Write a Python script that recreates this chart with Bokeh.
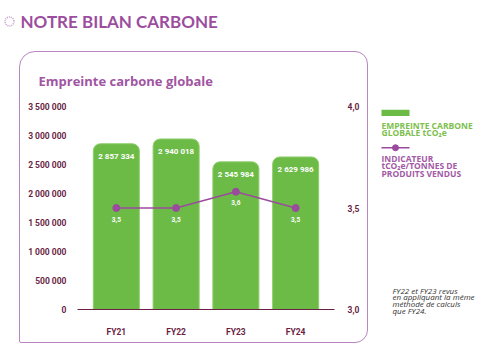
from bokeh.plotting import figure
from bokeh.models import FactorRange, Range1d, LinearAxis, FixedTicker, ColumnDataSource
from bokeh.layouts import column, row
from bokeh.core.properties import value
from bokeh.embed import file_html
from bokeh.resources import INLINE

# ---------------- data ----------------
years = ["FY21", "FY22", "FY23", "FY24"]
emissions = [2857334, 2940018, 2545984, 2629986]
intensity = [3.5, 3.5, 3.58, 3.5]
left_ticks = [0, 500000, 1000000, 1500000, 2000000, 2500000, 3000000, 3500000]
right_ticks = [3.0, 3.5, 4.0]

title_main = "NOTRE BILAN CARBONE"
title_chart = "Empreinte carbone globale"
legend_bar = ["EMPREINTE CARBONE", "GLOBALE tCO\u2082e"]
legend_line = ["INDICATEUR", "tCO\u2082e/TONNES DE", "PRODUITS VENDUS"]
footnote = ["FY22 et FY23 revus", "en appliquant la même",
            "méthode de calculs", "que FY24."]

def fmt_int(v):
    return f"{v:,}".replace(",", " ")

def fmt_dec(v):
    return f"{v:.1f}".replace(".", ",")

# ---------------- style ----------------
GREEN = "#6cbb46"
PURPLE = "#9a4b9d"
MAROON = "#6b1f45"
FRAME = "#b886c0"
COND = "Roboto"

def blank(fig):
    fig.outline_line_color = None
    fig.background_fill_color = None
    fig.border_fill_color = None
    fig.grid.visible = False
    fig.axis.visible = False
    return fig

# ---------------- header ----------------
header = blank(figure(width=495, height=51, x_range=Range1d(0, 495),
                      y_range=Range1d(51, 0), min_border=0,
                      output_backend="svg", toolbar_location=None))
header.scatter(x=[9], y=[21], size=9, marker="circle", fill_color=None,
               line_color="#c59acb", line_width=1.5, line_dash="1 1")
header.text(x=[20], y=[21], text=[title_main], text_font=value("Lato"),
            text_font_style="bold", text_font_size="17px", text_color="#9b4e9e",
            text_baseline="middle")

# ---------------- chart ----------------
chart = figure(width=349, height=292,
               x_range=FactorRange(*years, range_padding=0.075),
               y_range=Range1d(0, 3500000), output_backend="svg",
               toolbar_location=None, min_border_left=57, min_border_right=35,
               min_border_top=54, min_border_bottom=35, margin=(0, 0, 0, 19))
chart.outline_line_color = None
chart.background_fill_color = None
chart.border_fill_color = None
chart.grid.visible = False
chart.styles = {"border": f"1.5px solid {FRAME}",
                "border-radius": "16px 13px 13px 2px"}

chart.title.text = title_chart
chart.title.align = "left"
chart.title.offset = -39
chart.title.text_font = "Open Sans"
chart.title.text_font_style = "bold"
chart.title.text_font_size = "13px"
chart.title.text_color = "#9f55a3"
chart.title.standoff = 33

chart.extra_y_ranges = {"ind": Range1d(3.0, 4.0)}

src = ColumnDataSource(dict(
    year=years, em=emissions, em_lbl=[fmt_int(v) for v in emissions],
    ind=intensity, ind_lbl=[fmt_dec(v) for v in intensity]))

chart.vbar(x="year", top="em", width=0.77, source=src, fill_color=GREEN,
           line_color="#8fce6d", line_width=1, border_radius=(7, 7, 0, 0))
chart.text(x="year", y="em", text="em_lbl", source=src, y_offset=13,
           text_color="white", text_font=value(COND), text_font_style="bold",
           text_font_size="8px", text_align="center", text_baseline="middle")

chart.line(x="year", y="ind", source=src, y_range_name="ind",
           line_color=PURPLE, line_width=1.5)
chart.scatter(x="year", y="ind", source=src, y_range_name="ind", size=7,
              fill_color=PURPLE, line_color=PURPLE)
chart.text(x="year", y="ind", text="ind_lbl", source=src, y_range_name="ind",
           y_offset=11, text_color="white", text_font=value(COND),
           text_font_style="bold", text_font_size="6.5px", text_align="center",
           text_baseline="middle")

def style_axis(ax, standoff):
    ax.axis_line_color = None
    ax.major_tick_line_color = None
    ax.minor_tick_line_color = None
    ax.major_label_standoff = standoff
    ax.major_label_text_color = MAROON
    ax.major_label_text_font = COND
    ax.major_label_text_font_style = "bold"
    ax.major_label_text_font_size = "8.5px"

ya = chart.yaxis[0]
ya.ticker = FixedTicker(ticks=left_ticks)
ya.major_label_overrides = {t: fmt_int(t) for t in left_ticks}
style_axis(ya, 5)

ra = LinearAxis(y_range_name="ind", ticker=FixedTicker(ticks=right_ticks))
ra.major_label_overrides = {t: fmt_dec(t) for t in right_ticks}
style_axis(ra, 7)
chart.add_layout(ra, "right")

xa = chart.xaxis[0]
style_axis(xa, 11)
xa.axis_line_color = MAROON
xa.axis_line_width = 1

# ---------------- side: legend + footnote ----------------
SW, SH = 127, 301
side = blank(figure(width=SW, height=SH, x_range=Range1d(0, SW),
                    y_range=Range1d(SH, 0), min_border=0,
                    output_backend="svg", toolbar_location=None))
side.quad(left=[13], right=[41], top=[6], bottom=[15], fill_color=GREEN,
          line_color=None)
side.text(x=[13, 13], y=[28, 38], text=legend_bar, text_font=value("Open Sans"),
          text_font_style="bold", text_font_size="8.5px", text_color="#7cc04e",
          text_baseline="middle")
side.line(x=[13, 41], y=[60, 60], line_color=PURPLE, line_width=1.5)
side.scatter(x=[27], y=[60], size=6, fill_color=PURPLE, line_color=PURPLE)
side.text(x=[13, 13, 13], y=[75, 85, 96], text=legend_line,
          text_font=value("Open Sans"), text_font_style="bold",
          text_font_size="8.5px", text_color="#a25aa5", text_baseline="middle")
side.text(x=[24] * 4, y=[262, 271.5, 281, 290.5], text=footnote,
          text_font=value("Open Sans"), text_font_style="italic",
          text_font_size="8px", text_color="#333333", text_baseline="middle")

layout = column(header, row(chart, side))
open("out.html", "w").write(file_html(layout, INLINE))
